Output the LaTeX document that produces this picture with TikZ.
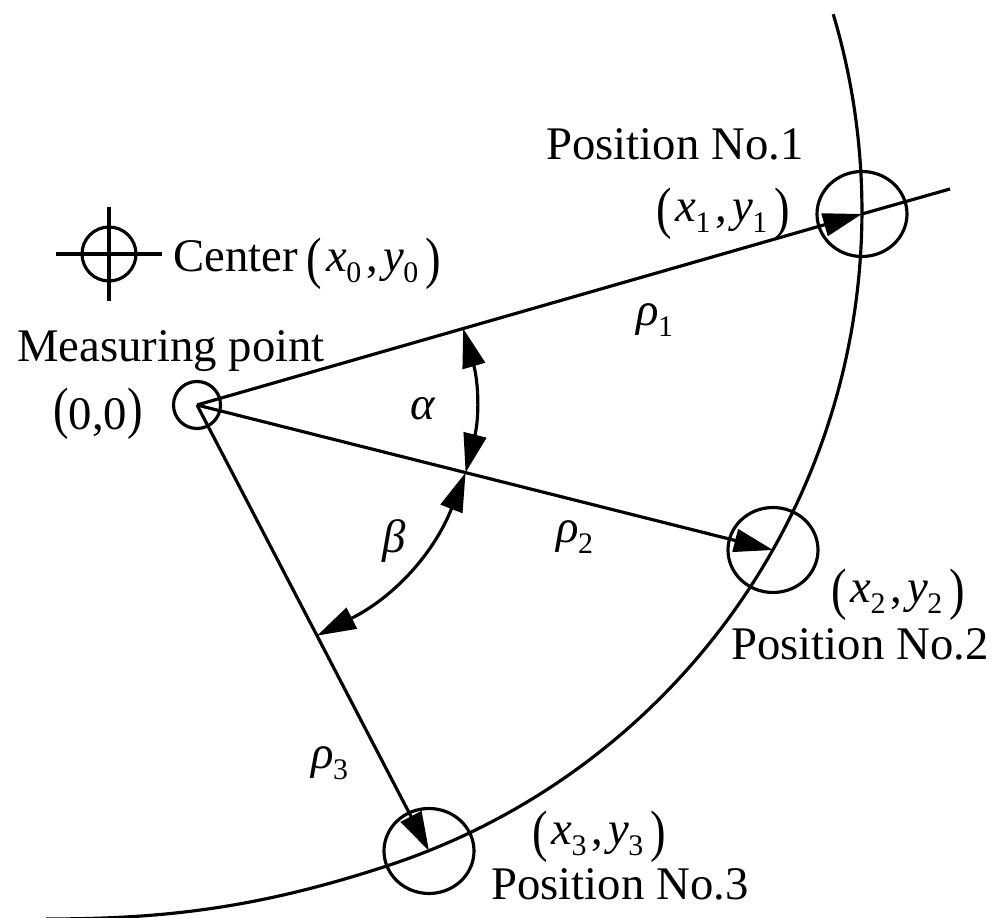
\documentclass[tikz,border=0pt]{standalone}
\usepackage{fontspec}
\setmainfont{Liberation Serif}
\usepackage{graphicx}
\usetikzlibrary{arrows.meta,shapes.geometric,calc}
\newcommand{\bigpar}[2]{\raisebox{#2}{\scalebox{1}[1.22]{#1}}}
\newcommand{\lpar}{\bigpar{(}{-1.6pt}}
\newcommand{\rpar}{\bigpar{)}{-1.6pt}}
\newcommand{\sbs}[1]{\kern-0.3pt\raisebox{-3pt}{\fontsize{8.5pt}{9pt}\selectfont #1}}
\newcommand{\crd}[1]{\lpar\kern1.2pt\textit{x}\sbs{#1}\kern1.5pt,\kern1.5pt\textit{y}\sbs{#1}\kern2pt\rpar}
\begin{document}
\begin{tikzpicture}[x=0.1mm, y=-0.1mm, line width=0.9pt,
  lbl/.style={font=\fontsize{13.3pt}{16pt}\selectfont, inner sep=0pt},
  arrowend/.style={-{Triangle[length=3.9mm,width=2.3mm]}},
  dbl/.style={{Triangle[length=3.9mm,width=2.3mm]}-{Triangle[length=3.9mm,width=2.3mm]}},
  posmark/.style={draw, ellipse, minimum width=9mm, minimum height=8.5mm, inner sep=0pt}]
\useasboundingbox (0,0) rectangle (1000,918);
% points
\node[draw, circle, minimum size=4.7mm, inner sep=0pt] (O) at (197,405) {};
\node[posmark] (P1) at (862,214) {};
\node[posmark] (P2) at (773,550) {};
\node[posmark] (P3) at (429,851) {};
\node[draw, circle, minimum size=5.4mm, inner sep=0pt] (C0) at (109,254) {};
\draw ([xshift=-5.3mm]C0.center) -- ([xshift=5.3mm]C0.center);
\draw ([yshift=4.7mm]C0.center) -- ([yshift=-4.7mm]C0.center);
\coordinate (E1) at (950,189);
\coordinate (T1) at ($(O.center)!0.4003!(P1.center)$);
\coordinate (V) at ($(O.center)!0.4663!(P2.center)$);
\coordinate (W) at ($(O.center)!0.5172!(P3.center)$);
% big arc
\draw plot[domain=-16.6:72.1, samples=90] ({173+689*cos(\x)},{211+689*sin(\x)})
  .. controls (252,910) and (157,919) .. (46,919);
% rays
\draw[arrowend] (O.center) -- (P1.center);
\draw (P1.center) -- (E1);
\draw[arrowend] (O.center) -- (P2.center);
\draw[arrowend] (O.center) -- (P3.center);
% angles
\draw[dbl] (T1) to[bend left=15] (V);
\draw[dbl] (V) to[bend left=21] (W);
% labels
\node[lbl, anchor=base] (L1) at (675,160) {Position No.1};
\node[lbl, anchor=base] (X1) at (723,222) {\crd{1}};
\node[lbl, anchor=base west] (LC) at (172,272) {Center\hspace{2.5pt}\crd{0}};
\node[lbl, anchor=base] (LM) at (171,362) {Measuring point};
\node[lbl, anchor=base] (LZ) at (98,430) {\bigpar{(}{0.6pt}0,0\bigpar{)}{0.6pt}};
\node[lbl, anchor=base] (X2) at (898,603) {\crd{2}};
\node[lbl, anchor=base] (L2) at (860,660) {Position No.2};
\node[lbl, anchor=base] (X3) at (599,845) {\crd{3}};
\node[lbl, anchor=base] (L3) at (620,900) {Position No.3};
\node[lbl, anchor=base] (R1) at (655,326) {\textit{ρ}\sbs{1}};
\node[lbl, anchor=base] (R2) at (575,543) {\textit{ρ}\sbs{2}};
\node[lbl, anchor=base] (R3) at (330,769) {\textit{ρ}\sbs{3}};
\node[lbl, anchor=base] (LA) at (423,420) {\textit{α}};
\node[lbl, anchor=base] (LB) at (394,553) {\textit{β}};
\end{tikzpicture}
\end{document}
